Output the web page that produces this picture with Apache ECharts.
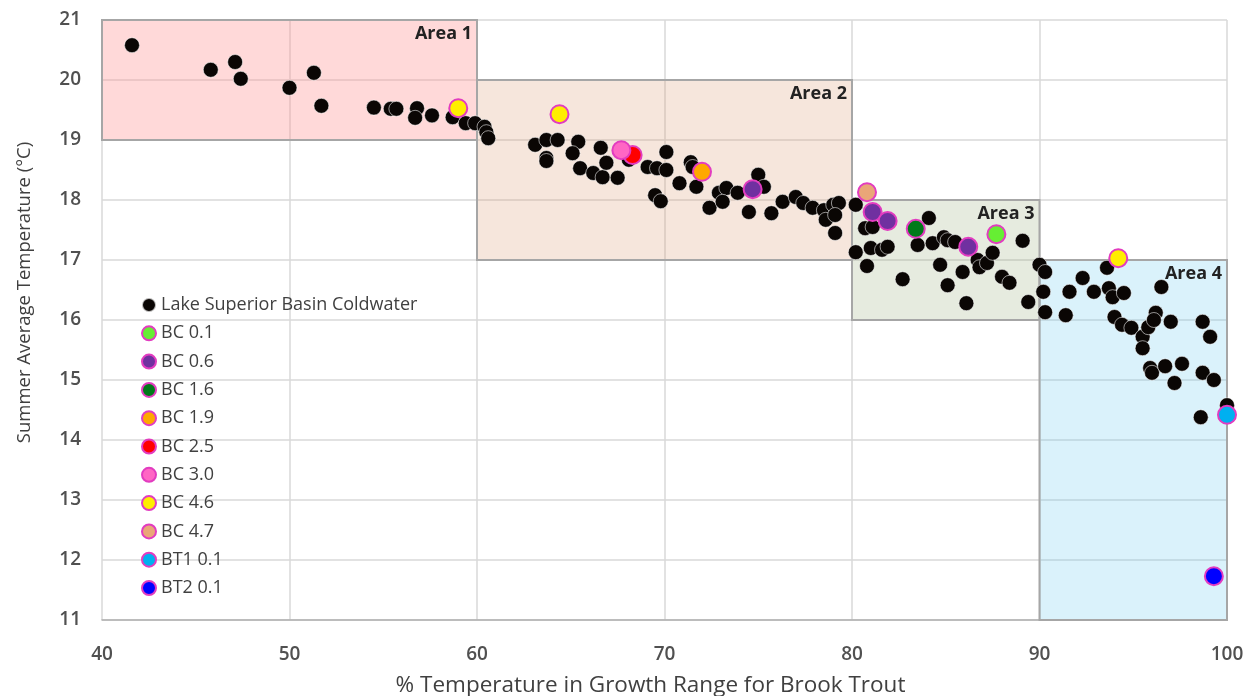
<!DOCTYPE html>
<html>
<head>
<meta charset="utf-8">
<script src="https://cdn.jsdelivr.net/npm/echarts@6/dist/echarts.min.js"></script>
<style>html,body{margin:0;padding:0;background:#fff}#c{width:1249px;height:696px}</style>
</head>
<body>
<div id="c"></div>
<script>
const xTicks = [40, 50, 60, 70, 80, 90, 100];
const yTicks = [11, 12, 13, 14, 15, 16, 17, 18, 19, 20, 21];

const lakeSuperior = [
  [41.6,20.58],[45.8,20.17],[47.1,20.3],[47.4,20.02],[50.0,19.87],[51.3,20.12],[51.7,19.57],
  [54.5,19.54],[55.4,19.52],[55.7,19.52],[56.8,19.53],[56.7,19.37],[57.6,19.41],[58.7,19.38],
  [59.4,19.28],[59.9,19.28],[60.4,19.22],[60.5,19.13],[60.6,19.03],
  [63.1,18.92],[63.7,19.0],[64.3,19.0],[63.7,18.7],[63.7,18.65],[65.4,18.97],[65.1,18.78],
  [65.5,18.53],[66.6,18.87],[66.2,18.45],[66.7,18.38],[66.9,18.62],[67.5,18.37],[68.1,18.67],
  [69.1,18.55],[69.6,18.53],[70.1,18.5],[70.1,18.8],[69.5,18.08],[69.8,17.98],[70.8,18.28],
  [71.4,18.63],[71.5,18.55],[71.7,18.22],[72.4,17.87],[72.9,18.12],[73.3,18.2],[73.9,18.12],
  [73.1,17.97],[75.0,18.42],[75.3,18.22],[74.5,17.8],[75.7,17.78],[76.3,17.97],[77.0,18.05],
  [77.4,17.95],[77.9,17.87],[78.5,17.83],[79.0,17.92],[79.3,17.95],[78.6,17.67],[79.1,17.75],
  [79.1,17.45],[80.2,17.92],[80.7,17.53],[81.1,17.55],[80.2,17.13],[81.0,17.2],[81.6,17.17],
  [81.9,17.22],[80.8,16.9],[82.7,16.68],[84.1,17.7],[83.5,17.25],[84.3,17.28],[84.9,17.38],
  [85.1,17.33],[85.5,17.3],[84.7,16.92],[85.1,16.58],[85.9,16.8],[86.1,16.28],[86.7,17.0],
  [86.8,16.88],[87.2,16.95],[87.5,17.12],[89.1,17.32],[88.0,16.72],[88.4,16.62],[89.4,16.3],
  [90.0,16.92],[90.3,16.8],[90.2,16.47],[91.6,16.47],[92.3,16.7],[92.9,16.47],[90.3,16.13],
  [91.4,16.08],[93.6,16.87],[93.7,16.53],[93.9,16.38],[94.5,16.45],[96.5,16.55],[94.0,16.05],
  [94.4,15.92],[94.9,15.87],[95.5,15.72],[95.5,15.53],[95.8,15.88],[96.2,16.12],[96.1,16.0],
  [97.0,15.97],[98.7,15.97],[99.1,15.72],[95.9,15.2],[96.0,15.12],[96.7,15.23],[97.6,15.27],
  [97.2,14.95],[98.7,15.12],[99.3,15.0],[98.6,14.38],[100.0,14.58]
];
const bc01 = [[87.7,17.43]];
const bc06 = [[74.7,18.18],[81.1,17.8],[81.9,17.65],[86.2,17.22]];
const bc16 = [[83.4,17.52]];
const bc19 = [[72.0,18.47]];
const bc25 = [[68.3,18.75]];
const bc30 = [[67.7,18.83]];
const bc46 = [[59.0,19.53],[64.4,19.43],[94.2,17.03]];
const bc47 = [[80.8,18.13]];
const bt101 = [[100.0,14.42]];
const bt201 = [[99.3,11.73]];

const areaNames = ['Area 1', 'Area 2', 'Area 3', 'Area 4'];
const areaX = [[40,60],[60,80],[80,90],[90,100]];
const areaY = [[19,21],[17,20],[16,18],[11,17]];
const areaColors = ['rgba(255,150,150,0.36)','rgba(220,160,120,0.26)','rgba(140,165,110,0.22)','rgba(100,200,240,0.24)'];

const colored = [
  ['BC 0.1', bc01, '#66ee33'],
  ['BC 0.6', bc06, '#7030a0'],
  ['BC 1.6', bc16, '#007a1a'],
  ['BC 1.9', bc19, '#ffa800'],
  ['BC 2.5', bc25, '#ff0000'],
  ['BC 3.0', bc30, '#ff66c4'],
  ['BC 4.6', bc46, '#ffee00'],
  ['BC 4.7', bc47, '#eaa678'],
  ['BT1 0.1', bt101, '#00b0f0'],
  ['BT2 0.1', bt201, '#0000ff']
];

const fontFam = "'Open Sans', 'Noto Sans', sans-serif";
const series = [{
  name: 'Lake Superior Basin Coldwater',
  type: 'scatter',
  data: lakeSuperior,
  symbolSize: 15,
  itemStyle: {color: '#0a0604', opacity: 1, borderColor: 'rgba(255,255,255,0.7)', borderWidth: 0.8},
  z: 2,
  markArea: {
    silent: true,
    data: areaNames.map((n, i) => [
      {name: n, xAxis: areaX[i][0], yAxis: areaY[i][1],
       itemStyle: {color: areaColors[i], borderColor: '#a6a6a6', borderWidth: 2}},
      {xAxis: areaX[i][1], yAxis: areaY[i][0]}
    ]),
    label: {show: true, position: 'insideTopRight', distance: 6, fontSize: 18, fontWeight: 'bold', color: '#222', fontFamily: fontFam}
  }
}];
colored.forEach(([name, data, color]) => {
  series.push({
    name, type: 'scatter', data, symbolSize: 18, z: 3,
    itemStyle: {color, opacity: 1, borderColor: '#e23cc0', borderWidth: 2}
  });
});

const chart = echarts.init(document.getElementById('c'), null, {renderer: 'canvas'});
chart.setOption({
  animation: false,
  backgroundColor: '#fff',
  grid: {left: 102, right: 22, top: 20, bottom: 76, containLabel: false, outerBoundsMode: 'none'},
  xAxis: {
    type: 'value', min: xTicks[0], max: xTicks[xTicks.length-1], interval: 10,
    name: '% Temperature in Growth Range for Brook Trout', nameLocation: 'middle', nameGap: 54,
    nameMoveOverlap: false,
    nameTextStyle: {fontSize: 22.5, color: '#404040', fontFamily: fontFam, padding: [0, 28, 0, 0]},
    axisLine: {show: true, lineStyle: {color: '#b0b0b0', width: 1.5}},
    axisTick: {show: false},
    axisLabel: {fontSize: 19, color: '#505050', margin: 25, fontFamily: fontFam, fontWeight: 600},
    splitLine: {show: true, lineStyle: {color: '#d9d9d9', width: 1.5}}
  },
  yAxis: {
    type: 'value', min: yTicks[0], max: yTicks[yTicks.length-1], interval: 1,
    name: 'Summer Average Temperature (°C)', nameLocation: 'middle', nameGap: 68, nameRotate: 90,
    nameMoveOverlap: false,
    nameTextStyle: {fontSize: 18.5, color: '#404040', fontFamily: fontFam, padding: [0, 0, 0, 55]},
    axisLine: {show: false},
    axisTick: {show: false},
    axisLabel: {fontSize: 19, color: '#505050', margin: 21, fontFamily: fontFam, fontWeight: 600},
    splitLine: {show: true, lineStyle: {color: '#d9d9d9', width: 1.5}}
  },
  legend: {
    orient: 'vertical', left: 136, top: 291,
    itemWidth: 14, itemHeight: 14, itemGap: 10.3,
    icon: 'circle',
    textStyle: {fontSize: 18, lineHeight: 18, color: '#404040', fontFamily: fontFam},
    data: ['Lake Superior Basin Coldwater'].concat(colored.map(c => c[0]))
  },
  series
});
</script>
</body>
</html>
